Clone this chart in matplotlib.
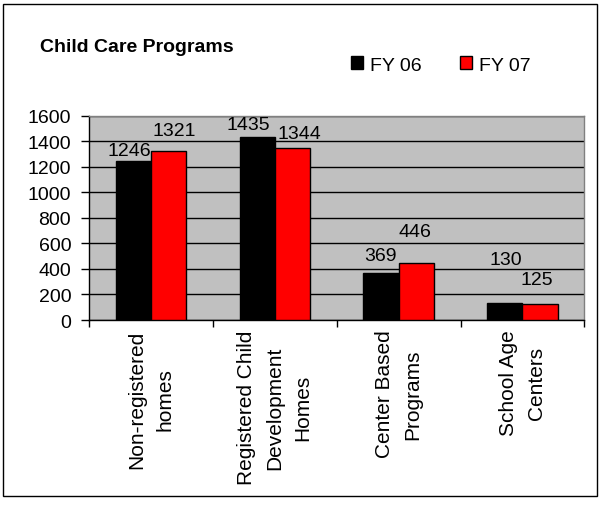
import matplotlib
matplotlib.use("Agg")
import matplotlib.pyplot as plt
from matplotlib.patches import Patch, Rectangle
import numpy as np

plt.rcParams["font.family"] = ["Liberation Sans", "DejaVu Sans"]

categories = ["Non-registered\nhomes", "Registered Child\nDevelopment\nHomes",
              "Center Based\nPrograms", "School Age\nCenters"]
fy06 = [1246, 1435, 369, 130]
fy07 = [1321, 1344, 446, 125]
series_names = ["FY 06", "FY 07"]

# label offsets in pixels from the top-centre of each bar (labels were nudged by hand in the original)
off06 = [(-4, 10), (-9, 12), (-1, 17), (1, 44)]
off07 = [(5, 21), (7, 15), (-1, 32), (-3, 25)]

fig = plt.figure(figsize=(6, 5.06), dpi=100)
ax = fig.add_axes([89.3 / 600, 1 - 321 / 506, (584.3 - 89.3) / 600, (321 - 116.7) / 506])

x = np.arange(len(categories))
w = 0.285
ax.bar(x - w / 2, fy06, w, color="black", edgecolor="black", linewidth=1, zorder=3)
ax.bar(x + w / 2, fy07, w, color="#FF0000", edgecolor="black", linewidth=1, zorder=3)

for xi, v, (dx, dy) in zip(x - w / 2, fy06, off06):
    ax.annotate(str(v), (xi, v), xytext=(dx, dy), textcoords="offset pixels",
                ha="center", va="center", fontsize=14, zorder=4)
for xi, v, (dx, dy) in zip(x + w / 2, fy07, off07):
    ax.annotate(str(v), (xi, v), xytext=(dx, dy), textcoords="offset pixels",
                ha="center", va="center", fontsize=14, zorder=4)

ax.set_facecolor("#C0C0C0")
ax.set_xlim(-0.5, 3.5)
ax.set_ylim(0, 1600)
ax.set_yticks(range(0, 1601, 200))
ax.yaxis.grid(True, color="black", linewidth=1, zorder=1)
ax.set_axisbelow(True)

ax.set_xticks(np.arange(-0.5, 4, 1))
ax.set_xticklabels([])
ax.set_xticks(x, minor=True)
ax.set_xticklabels(categories, minor=True, rotation=90, fontsize=15, va="top", ha="center",
                   linespacing=1.6)
ax.tick_params(axis="x", which="minor", length=0, pad=7)
ax.tick_params(axis="x", which="major", length=5, width=1, direction="out")
ax.tick_params(axis="y", length=6, width=1, direction="out", labelsize=14, pad=7)

for s in ["top", "right"]:
    ax.spines[s].set_color("#808080")
for s in ["left", "bottom"]:
    ax.spines[s].set_color("black")
for s in ax.spines.values():
    s.set_linewidth(1)

fig.text(40 / 600, 1 - 52 / 506, "Child Care Programs", fontsize=14, fontweight="bold",
         va="baseline", ha="left")

handles = [Patch(facecolor="black", edgecolor="black"), Patch(facecolor="#FF0000", edgecolor="black")]
fig.legend(handles, series_names, loc="center", bbox_to_anchor=(441 / 600, 1 - 66 / 506),
           ncol=2, frameon=False, fontsize=14, handlelength=0.6, handleheight=0.6,
           handletextpad=0.35, columnspacing=2.0)

fig.patches.append(Rectangle((3 / 600, 1 - 497 / 506), 594 / 600, 492 / 506,
                             transform=fig.transFigure, fill=False, edgecolor="black", linewidth=1))

fig.savefig("out.png", dpi=100)
